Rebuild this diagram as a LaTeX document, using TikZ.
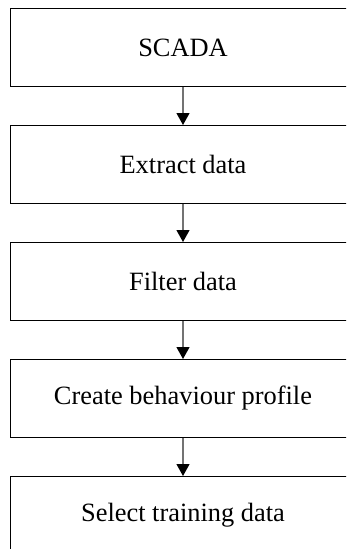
\documentclass[tikz,border=0pt]{standalone}
\usepackage{fontspec}
\setmainfont{Liberation Serif}
\usetikzlibrary{arrows.meta,positioning}

\begin{document}
\begin{tikzpicture}[
  stepbox/.style={draw=black, line width=1pt, minimum width=346pt, minimum height=78pt, inner sep=0pt, font=\fontsize{26.4}{30}\selectfont},
  flow/.style={draw=black!55, line width=1.2pt, -{Triangle[length=12pt,width=13pt,color=black]}}
]
  \useasboundingbox (0,0) rectangle (346pt,-549pt);
  \clip (0,0) rectangle (346pt,-549pt);

  %% Processing chain
  \node[stepbox] (scada) at (183pt,-47.5pt) {SCADA};
  \node[stepbox, below=38pt of scada] (extract) {Extract data};
  \node[stepbox, below=38pt of extract] (filter) {Filter data};
  \node[stepbox, below=38pt of filter] (profile) {Create behaviour profile};
  \node[stepbox, below=38pt of profile] (select) {Select training data};

  %% Arrows between steps
  \draw[flow] (scada) -- (extract);
  \draw[flow] (extract) -- (filter);
  \draw[flow] (filter) -- (profile);
  \draw[flow] (profile) -- (select);
\end{tikzpicture}
\end{document}
